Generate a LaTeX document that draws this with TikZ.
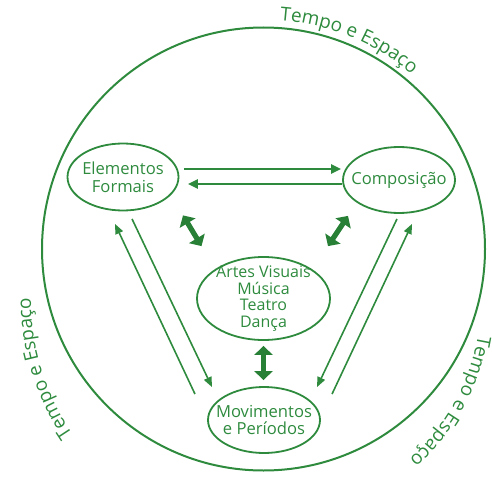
\documentclass[tikz,border=0pt]{standalone}
\usepackage{fontspec}
\setmainfont{Open Sans}
\usetikzlibrary{shapes.geometric, arrows.meta, decorations.text}
\definecolor{gr}{RGB}{46,139,62}
\definecolor{grd}{RGB}{40,128,55}
\begin{document}
\begin{tikzpicture}[x=0.5pt,y=0.5pt,
  oval/.style={ellipse, draw=gr, line width=0.9pt, inner sep=0pt},
  lbl/.style={text=gr, align=center, font=\fontsize{8.3}{8.8}\selectfont, inner sep=0pt},
  lblsmall/.style={text=gr, align=center, font=\fontsize{8}{8.3}\selectfont, inner sep=0pt},
  thinarrow/.style={draw=gr, line width=0.8pt, -{Triangle[width=4pt,length=5pt]}},
  flowarrow/.style={draw=gr, line width=1.3pt, -{Triangle[width=4.5pt,length=5pt]}},
  boldarrow/.style={draw=grd, line width=2.6pt, {Triangle[width=9pt,length=4.5pt]}-{Triangle[width=9pt,length=4.5pt]}},
  ring/.style={draw=gr, line width=1pt},
  ringtext/.style={decorate, decoration={text along path, text align=center,
     text={|\fontsize{9.5}{10}\selectfont\color{gr}|Tempo e Espa{ç}o}}}
]
\useasboundingbox (0,0) rectangle (492,-476);
\draw[ring] (263.5,-249) circle [radius=110.75pt];

% text around the circle
\path[ringtext] (263.5,-249) ++(100:114.5pt) arc[start angle=100, end angle=35.6, radius=114.5pt];
\path[ringtext] (268,-300) ++(227:118.5pt) arc[start angle=227, end angle=167, radius=118.5pt];
\path[ringtext] (268,-300) ++(1:106.5pt) arc[start angle=1, end angle=-59, radius=106.5pt];

% nodes
\node[oval, minimum width=55.5pt, minimum height=33.5pt] (ef) at (123,-177) {};
\node[lbl] (eft) at (ef) {Elementos\\Formais};
\node[oval, minimum width=56pt, minimum height=33pt] (cp) at (399,-180) {};
\node[lbl] (cpt) at (cp) {Composição};
\node[oval, minimum width=66.5pt, minimum height=41.5pt] (av) at (263.5,-298.5) {};
\node[lblsmall] (avt) at (av) {Artes Visuais\\Música\\Teatro\\Dança};
\node[oval, minimum width=56pt, minimum height=33pt] (mv) at (264,-420) {};
\node[lbl] (mvt) at (mv) {Movimentos\\e Períodos};

% horizontal arrows
\draw[flowarrow] ([shift={(2.25pt,4pt)}]ef.east) -- ([shift={(-0.5pt,5.5pt)}]cp.west);
\draw[flowarrow] ([shift={(0pt,-2pt)}]cp.west) -- ([shift={(4.25pt,-3.5pt)}]ef.east);

% diagonal arrows
\draw[thinarrow] ([shift={(4.5pt,-3.75pt)}]ef.south) -- ([shift={(-26pt,-0.5pt)}]mv.north);
\draw[thinarrow] ([shift={(-34.5pt,-4pt)}]mv.north) -- ([shift={(-4pt,-6.25pt)}]ef.south);
\draw[thinarrow] ([shift={(-1pt,-2.5pt)}]cp.south) -- ([shift={(26.5pt,-0.5pt)}]mv.north);
\draw[thinarrow] ([shift={(34pt,-4pt)}]mv.north) -- ([shift={(6.5pt,-5pt)}]cp.south);

% bold double arrows
\draw[boldarrow] ([shift={(30pt,-2pt)}]ef.south) -- ([shift={(-31pt,5pt)}]av.north);
\draw[boldarrow] ([shift={(-25.5pt,-1pt)}]cp.south) -- ([shift={(32.25pt,5pt)}]av.north);
\draw[boldarrow] ([shift={(0pt,-2.5pt)}]av.south) -- ([shift={(-0.25pt,3pt)}]mv.north);
\end{tikzpicture}
\end{document}
